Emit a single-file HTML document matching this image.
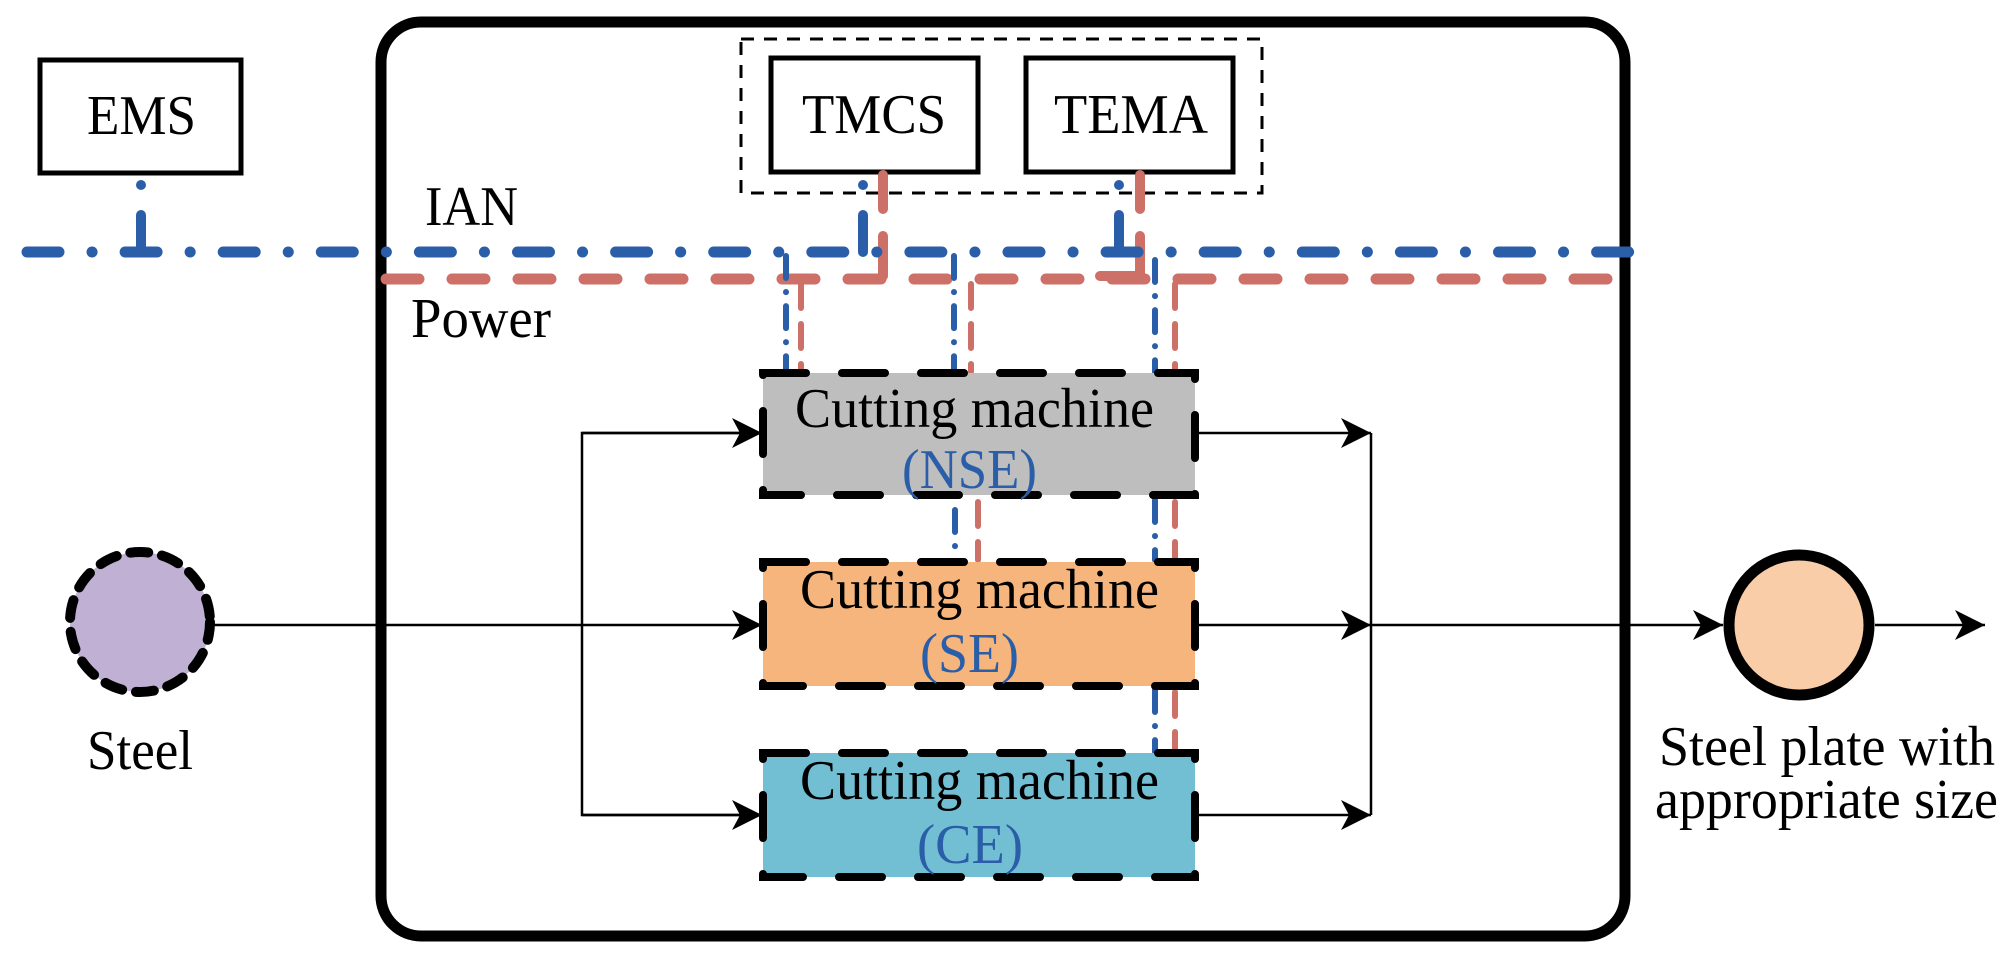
<!DOCTYPE html>
<html><head><meta charset="utf-8"><style>
html,body{margin:0;padding:0;background:#fff;}
svg{display:block;}
text{font-family:"Liberation Serif",serif;font-size:56px;}
</style></head><body>
<svg width="2008" height="960" viewBox="0 0 2008 960" xmlns="http://www.w3.org/2000/svg">
<defs>
<marker id="ah" markerWidth="32" markerHeight="32" refX="30" refY="15" orient="auto" markerUnits="userSpaceOnUse">
<path d="M0,0 L30,15 L0,30 L8,15 Z" fill="#000"/>
</marker>
</defs>
<!-- outer box -->
<rect x="381" y="22" width="1244" height="914" rx="40" ry="40" fill="none" stroke="#000" stroke-width="11"/>
<!-- EMS -->
<rect x="40" y="60" width="201" height="113" fill="#fff" stroke="#000" stroke-width="5"/>
<text x="87" y="134" textLength="109" lengthAdjust="spacingAndGlyphs">EMS</text>
<!-- group dashed box -->
<rect x="741" y="39" width="521" height="154" fill="none" stroke="#000" stroke-width="3" stroke-dasharray="13,10"/>
<rect x="771" y="58" width="207" height="114" fill="#fff" stroke="#000" stroke-width="5"/>
<text x="802" y="133" textLength="144" lengthAdjust="spacingAndGlyphs">TMCS</text>
<rect x="1026" y="58" width="207" height="114" fill="#fff" stroke="#000" stroke-width="5"/>
<text x="1054" y="133" textLength="154" lengthAdjust="spacingAndGlyphs">TEMA</text>
<!-- labels -->
<text x="425" y="225" textLength="93" lengthAdjust="spacingAndGlyphs">IAN</text>
<text x="411" y="337" textLength="140" lengthAdjust="spacingAndGlyphs">Power</text>
<!-- connectors from boxes -->
<g stroke="#2a5ea8" stroke-width="10" stroke-linecap="round" fill="none">
<line x1="141" y1="185" x2="141" y2="185"/>
<line x1="141" y1="215" x2="141" y2="252"/>
<line x1="863" y1="185" x2="863" y2="185"/>
<line x1="863" y1="215" x2="863" y2="252"/>
<line x1="1119" y1="185" x2="1119" y2="185"/>
<line x1="1119" y1="215" x2="1119" y2="252"/>
</g>
<g stroke="#cd7068" stroke-width="10" stroke-linecap="round" fill="none">
<line x1="883" y1="175" x2="883" y2="209"/>
<line x1="883" y1="236" x2="883" y2="276"/>
<line x1="1140" y1="175" x2="1140" y2="209"/>
<path d="M1140,236 L1140,276 L1100,276"/>
</g>
<!-- IAN and Power lines -->
<line x1="27" y1="252" x2="1630" y2="252" stroke="#2a5ea8" stroke-width="11" stroke-linecap="round" stroke-dasharray="32,33,0.1,33"/>
<line x1="386" y1="279" x2="1630" y2="279" stroke="#cd7068" stroke-width="11" stroke-linecap="round" stroke-dasharray="33,33"/>
<!-- vertical drops -->
<g stroke="#2a5ea8" stroke-width="6" stroke-linecap="round" fill="none" stroke-dasharray="22,14,0.1,14">
<line x1="786" y1="256" x2="786" y2="372"/>
<line x1="954" y1="256" x2="954" y2="372"/>
<line x1="1155" y1="260" x2="1155" y2="372"/>
<line x1="955" y1="510" x2="955" y2="560"/>
<line x1="1155" y1="500" x2="1155" y2="560"/>
<line x1="1155" y1="690" x2="1155" y2="752"/>
</g>
<g stroke="#cd7068" stroke-width="6" stroke-linecap="round" fill="none" stroke-dasharray="24,16">
<line x1="801" y1="284" x2="801" y2="372"/>
<line x1="971" y1="284" x2="971" y2="372"/>
<line x1="1175" y1="284" x2="1175" y2="372"/>
<line x1="978" y1="502" x2="978" y2="560"/>
<line x1="1175" y1="502" x2="1175" y2="560"/>
<line x1="1175" y1="692" x2="1175" y2="752"/>
</g>
<!-- machines -->
<rect x="763" y="373" width="432" height="122" fill="#bebebe" stroke="#000" stroke-width="8" stroke-dasharray="43,36" stroke-linecap="round"/>
<text x="795" y="427" textLength="359" lengthAdjust="spacingAndGlyphs">Cutting machine</text>
<text x="902" y="488" textLength="135" lengthAdjust="spacingAndGlyphs" fill="#2a5ea8">(NSE)</text>
<rect x="763" y="562" width="432" height="124" fill="#f6b57c" stroke="#000" stroke-width="8" stroke-dasharray="43,36" stroke-linecap="round"/>
<text x="800" y="608" textLength="359" lengthAdjust="spacingAndGlyphs">Cutting machine</text>
<text x="920" y="672" textLength="99" lengthAdjust="spacingAndGlyphs" fill="#2a5ea8">(SE)</text>
<rect x="763" y="753" width="432" height="124" fill="#72bfd3" stroke="#000" stroke-width="8" stroke-dasharray="43,36" stroke-linecap="round"/>
<text x="800" y="799" textLength="359" lengthAdjust="spacingAndGlyphs">Cutting machine</text>
<text x="917" y="863" textLength="106" lengthAdjust="spacingAndGlyphs" fill="#2a5ea8">(CE)</text>
<!-- flow lines -->
<g stroke="#000" stroke-width="2.5" fill="none">
<line x1="213" y1="625" x2="762" y2="625" marker-end="url(#ah)"/>
<path d="M762,433 L582,433 L582,815 L762,815" />
<line x1="582" y1="433" x2="762" y2="433" marker-end="url(#ah)"/>
<line x1="582" y1="815" x2="762" y2="815" marker-end="url(#ah)"/>
<line x1="1199" y1="433" x2="1371" y2="433" marker-end="url(#ah)"/>
<line x1="1199" y1="625" x2="1371" y2="625" marker-end="url(#ah)"/>
<line x1="1199" y1="815" x2="1371" y2="815" marker-end="url(#ah)"/>
<line x1="1371" y1="433" x2="1371" y2="815"/>
<line x1="1371" y1="625" x2="1723" y2="625" marker-end="url(#ah)"/>
<line x1="1875" y1="625" x2="1985" y2="625" marker-end="url(#ah)"/>
</g>
<!-- circles -->
<circle cx="140" cy="622" r="70" fill="#c0b0d3" stroke="#000" stroke-width="10" stroke-dasharray="18,14" stroke-linecap="round"/>
<text x="87" y="769" textLength="106" lengthAdjust="spacingAndGlyphs">Steel</text>
<circle cx="1799" cy="625" r="70" fill="#f8cda8" stroke="#000" stroke-width="11"/>
<text x="1659" y="765" textLength="336" lengthAdjust="spacingAndGlyphs">Steel plate with</text>
<text x="1655" y="818" textLength="343" lengthAdjust="spacingAndGlyphs">appropriate size</text>
</svg>
</body></html>
